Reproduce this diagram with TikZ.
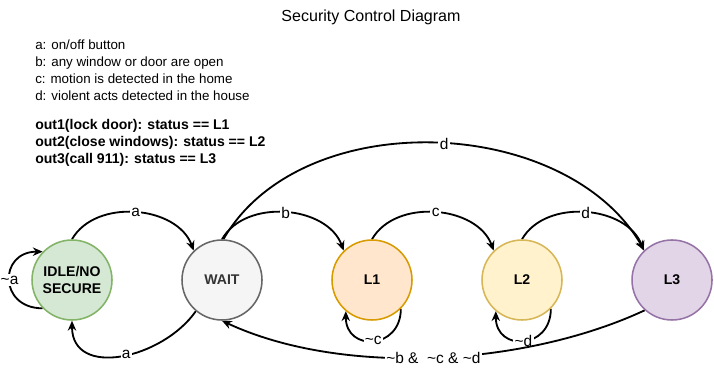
\documentclass[tikz,border=0pt]{standalone}
\usepackage{fontspec}
\setmainfont{Liberation Sans}
\usetikzlibrary{arrows.meta}
\pgfdeclarelayer{edgelayer}
\pgfdeclarelayer{nodelayer}
\pgfsetlayers{edgelayer,nodelayer,main}
\definecolor{idlefill}{HTML}{D5E8D4}
\definecolor{idleline}{HTML}{82B366}
\definecolor{waitfill}{HTML}{F5F5F5}
\definecolor{waitline}{HTML}{666666}
\definecolor{waittext}{HTML}{333333}
\definecolor{lonefill}{HTML}{FFE6CC}
\definecolor{loneline}{HTML}{D79B00}
\definecolor{ltwofill}{HTML}{FFF2CC}
\definecolor{ltwoline}{HTML}{D6B656}
\definecolor{lthreefill}{HTML}{E1D5E7}
\definecolor{lthreeline}{HTML}{9673A6}
\tikzset{font=\fontsize{10}{11.9}\selectfont}
\tikzstyle{none}=[inner sep=0pt]
\tikzstyle{state}=[circle,draw,line width=1.1pt,minimum size=2cm,inner sep=0pt,align=center,font=\fontsize{10}{12}\selectfont\bfseries]
\tikzstyle{idle}=[state,fill=idlefill,draw=idleline]
\tikzstyle{waiting}=[state,fill=waitfill,draw=waitline,text=waittext]
\tikzstyle{lone}=[state,fill=lonefill,draw=loneline]
\tikzstyle{ltwo}=[state,fill=ltwofill,draw=ltwoline]
\tikzstyle{lthree}=[state,fill=lthreefill,draw=lthreeline]
\tikzstyle{trans}=[line width=1.3pt,-{Stealth[length=7pt,width=6pt]}]
\tikzstyle{lbl}=[fill=white,inner sep=1pt,font=\fontsize{11}{13}\selectfont]

\begin{document}
\begin{tikzpicture}
	\useasboundingbox (0,0) rectangle (17.85,-9.25);
	\begin{pgfonlayer}{nodelayer}
		\node [style=none, font=\fontsize{11.4}{13}\selectfont] (5) at (9.275, -0.425) {Security Control Diagram};
		% inputs, then outputs in bold
		\node [style=none, anchor=north west, align=left, font=\fontsize{9.5}{11.9}\selectfont] (6) at (0.875, -1.0) {a: on/off button\\
			b: any window or door are open\\
			c: motion is detected in the home\\
			d: violent acts detected in the house};
		\node [style=none, anchor=north west, align=left, font=\fontsize{10}{11.9}\selectfont\bfseries] (7) at (0.875, -2.98) {out1(lock door): status == L1\\
			out2(close windows): status == L2\\
			out3(call 911): status == L3};
		\node [style=idle] (0) at (1.8, -7) {IDLE/NO\\SECURE};
		\node [style=waiting] (1) at (5.55, -7) {WAIT};
		\node [style=lone] (2) at (9.3, -7) {L1};
		\node [style=ltwo] (3) at (13.05, -7) {L2};
		\node [style=lthree] (4) at (16.8, -7) {L3};
	\end{pgfonlayer}
	\begin{pgfonlayer}{edgelayer}
		\draw [style=trans] [out=60, in=110, looseness=1.00] (0.90) to node [style=lbl] {a} (1.134);
		\draw [style=trans] [out=235, in=270, looseness=1.20] (1.230) to node [style=lbl, pos=0.47] {a} (0.270);
		\draw [style=trans] [out=180, in=180, looseness=2.00] (0.224) to node [style=lbl] {\textasciitilde a} (0.136);
		\draw [style=trans] [out=60, in=110, looseness=1.00] (1.90) to node [style=lbl] {b} (2.134);
		\draw [style=trans] [out=60, in=120, looseness=0.95] (1.88) to node [style=lbl, pos=0.52] {d} (4.133);
		\draw [style=trans] [out=60, in=110, looseness=1.00] (2.90) to node [style=lbl] {c} (3.134);
		\draw [style=trans] [out=60, in=110, looseness=1.00] (3.90) to node [style=lbl] {d} (4.134);
		\draw [style=trans] [out=270, in=270, looseness=1.90] (2.315) to node [style=lbl] {\textasciitilde c} (2.230);
		\draw [style=trans] [out=270, in=270, looseness=1.90] (3.315) to node [style=lbl] {\textasciitilde d} (3.230);
		\draw [style=trans] [out=205, in=335, looseness=0.80] (4.228) to node [style=lbl, pos=0.5] {\textasciitilde b \&\ \ \textasciitilde c \& \textasciitilde d} (1.270);
	\end{pgfonlayer}
\end{tikzpicture}
\end{document}
